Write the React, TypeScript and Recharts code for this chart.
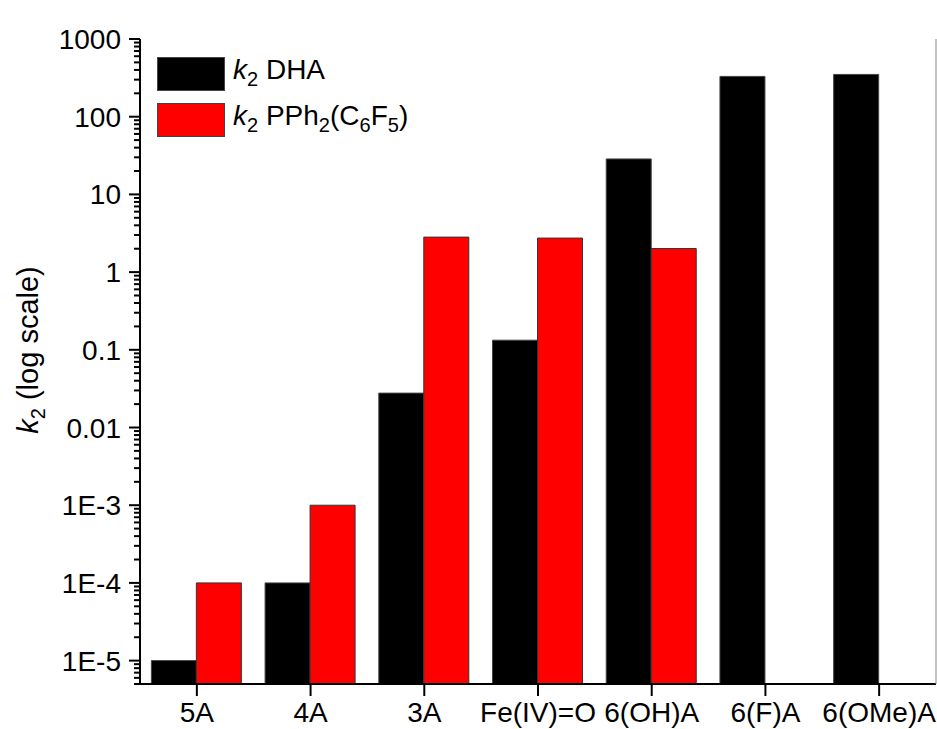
import React from "react";
import { BarChart, Bar, XAxis, YAxis } from "recharts";

const categories = ["5A", "4A", "3A", "Fe(IV)=O", "6(OH)A", "6(F)A", "6(OMe)A"];
const dhaValues = [1e-5, 1e-4, 0.0277, 0.133, 28.6, 330, 350];
const pphValues: (number | null)[] = [1e-4, 1e-3, 2.82, 2.74, 2.01, null, null];

const majorTicks = [1e-5, 1e-4, 1e-3, 0.01, 0.1, 1, 10, 100, 1000];
const majorLabels = ["1E-5", "1E-4", "1E-3", "0.01", "0.1", "1", "10", "100", "1000"];

// minor ticks 2..9 of each decade inside the domain
const minorTicks: number[] = [];
for (const base of [1e-6, 1e-5, 1e-4, 1e-3, 0.01, 0.1, 1, 10, 100]) {
  for (const m of [2, 3, 4, 5, 6, 7, 8, 9]) {
    const v = +(base * m).toPrecision(3);
    if (v >= 5e-6 && v < 1000) minorTicks.push(v);
  }
}
const allTicks = [...majorTicks, ...minorTicks];

const data = categories.map((name, i) => ({
  name,
  dha: dhaValues[i],
  pph: pphValues[i],
}));

const FONT = "Arial, 'Liberation Sans', sans-serif";

const YTick = (props: any) => {
  const { x, y, payload } = props;
  const idx = majorTicks.findIndex((t) => Math.abs(t - payload.value) / t < 1e-6);
  const major = idx >= 0;
  return (
    <g>
      <line x1={x - (major ? 11 : 6)} x2={x} y1={y} y2={y} stroke="#000" strokeWidth={2} />
      {major && (
        <text x={x - 19} y={y} dy="0.36em" textAnchor="end" fontSize={28} fontFamily={FONT} fill="#000">
          {majorLabels[idx]}
        </text>
      )}
    </g>
  );
};

const XTick = (props: any) => {
  const { x, y, payload } = props;
  return (
    <g>
      <line x1={x} x2={x} y1={y} y2={y + 12} stroke="#000" strokeWidth={2} />
      <text x={x} y={y + 38} textAnchor="middle" fontSize={28} fontFamily={FONT} fill="#000">
        {payload.value}
      </text>
    </g>
  );
};

const YLabel = () => (
  <text
    transform="translate(38,350) rotate(-90)"
    textAnchor="middle"
    fontSize={29}
    fontFamily={FONT}
    fill="#000"
  >
    <tspan fontStyle="italic">k</tspan>
    <tspan fontSize={20} dy={7}>2</tspan>
    <tspan dy={-7}> (log scale)</tspan>
  </text>
);

const subStyle = { fontSize: 20, verticalAlign: "-7px" };

const LegendBox = () => (
  <div
    style={{
      position: "absolute",
      left: 157,
      top: 57,
      fontFamily: FONT,
      fontSize: 28,
      color: "#000",
      lineHeight: "34px",
    }}
  >
    {[
      { color: "#000000", label: <> DHA</> },
      {
        color: "#ff0000",
        label: (
          <>
            {" "}PPh<sub style={subStyle}>2</sub>(C<sub style={subStyle}>6</sub>F<sub style={subStyle}>5</sub>)
          </>
        ),
      },
    ].map((it, i) => (
      <div key={i} style={{ display: "flex", alignItems: "center", height: 34, marginBottom: i === 0 ? 12 : 0 }}>
        <div style={{ width: 66, height: 32, background: it.color, border: "1px solid #444", marginRight: 8 }} />
        <span style={{ whiteSpace: "nowrap" }}>
          <i>k</i>
          <sub style={subStyle}>2</sub>
          {it.label}
        </span>
      </div>
    ))}
  </div>
);

export default function App() {
  return (
    <div style={{ position: "absolute", left: 0, top: 0, width: 937, height: 729, background: "#fff" }}>
      <BarChart
        width={937}
        height={729}
        data={data}
        margin={{ top: 39, right: 0, bottom: 0, left: 0 }}
        barCategoryGap="10%"
        barGap={0}
      >
        <XAxis
          dataKey="name"
          height={45}
          axisLine={{ stroke: "#000", strokeWidth: 2 }}
          tickLine={false}
          tickSize={0}
          tickMargin={0}
          interval={0}
          tick={<XTick />}
        />
        <XAxis
          xAxisId="top"
          dataKey="name"
          orientation="top"
          height={0}
          axisLine={{ stroke: "#000", strokeWidth: 2 }}
          tick={false}
          tickLine={false}
        />
        <YAxis
          width={140}
          scale="log"
          domain={[5e-6, 1000]}
          allowDataOverflow
          ticks={allTicks}
          interval={0}
          axisLine={{ stroke: "#000", strokeWidth: 2 }}
          tickLine={false}
          tickSize={0}
          tickMargin={0}
          tick={<YTick />}
          label={{ content: <YLabel /> }}
        />
        <YAxis
          yAxisId="right"
          orientation="right"
          width={1}
          scale="log"
          domain={[5e-6, 1000]}
          allowDataOverflow
          axisLine={{ stroke: "#888", strokeWidth: 1 }}
          tick={false}
          tickLine={false}
        />
        <Bar dataKey="dha" fill="#000000" stroke="#444" strokeWidth={1} isAnimationActive={false} />
        <Bar dataKey="pph" fill="#ff0000" stroke="#333" strokeWidth={1} isAnimationActive={false} />
      </BarChart>
      <LegendBox />
    </div>
  );
}
